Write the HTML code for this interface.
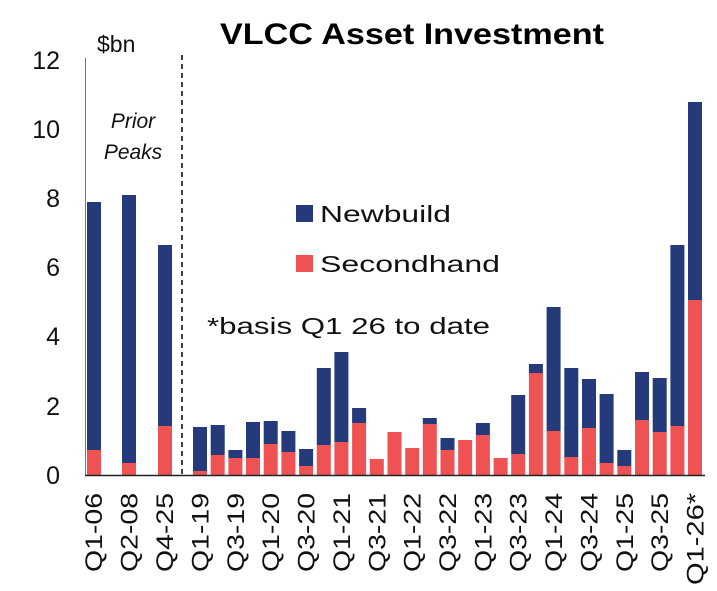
<!DOCTYPE html>
<html><head><meta charset="utf-8"><style>
html,body{margin:0;padding:0;background:#fff;}
svg{display:block;font-family:"Liberation Sans",sans-serif;}
</style></head><body>
<svg width="717" height="591" viewBox="0 0 717 591" xmlns="http://www.w3.org/2000/svg">
<rect width="717" height="591" fill="#fff"/>
<text x="220" y="44" font-size="30" font-weight="bold" textLength="384" lengthAdjust="spacingAndGlyphs" fill="#000">VLCC Asset Investment</text>
<g font-size="25" fill="#111" text-anchor="end">
<text x="60" y="69">12</text><text x="60" y="138">10</text><text x="60" y="207">8</text>
<text x="60" y="276">6</text><text x="60" y="345">4</text><text x="60" y="415">2</text><text x="60" y="484">0</text>
</g>
<text x="97" y="52" font-size="23" fill="#111">$bn</text>
<g font-size="21" font-style="italic" fill="#111" text-anchor="middle">
<text x="133" y="128">Prior</text><text x="133" y="159">Peaks</text>
</g>
<line x1="85.5" y1="58" x2="85.5" y2="476" stroke="#777" stroke-width="1"/>
<line x1="182" y1="55" x2="182" y2="475" stroke="#111" stroke-width="1.6" stroke-dasharray="5,4"/>
<rect x="296" y="205" width="17" height="17" fill="#243a7a"/>
<text x="320" y="222" font-size="23" fill="#111" textLength="131" lengthAdjust="spacingAndGlyphs">Newbuild</text>
<rect x="296" y="255" width="17" height="17" fill="#ef5252"/>
<text x="320" y="272" font-size="23" fill="#111" textLength="180" lengthAdjust="spacingAndGlyphs">Secondhand</text>
<text x="207" y="334" font-size="23" fill="#111" textLength="283" lengthAdjust="spacingAndGlyphs">*basis Q1 26 to date</text>
<g fill="#243a7a">
<rect x="87" y="202" width="14" height="248"/>
<rect x="122" y="195" width="14" height="268"/>
<rect x="158" y="245" width="14" height="181"/>
<rect x="193" y="427" width="14" height="44"/>
<rect x="210.7" y="425" width="14" height="30"/>
<rect x="228.4" y="450" width="14" height="8"/>
<rect x="246" y="422" width="14" height="36"/>
<rect x="263.7" y="421" width="14" height="23"/>
<rect x="281.4" y="431" width="14" height="21"/>
<rect x="299.1" y="449" width="14" height="17"/>
<rect x="316.8" y="368" width="14" height="77"/>
<rect x="334.4" y="352" width="14" height="90"/>
<rect x="352.1" y="408" width="14" height="15"/>
<rect x="422.8" y="418" width="14" height="6"/>
<rect x="440.5" y="438" width="14" height="12"/>
<rect x="475.9" y="423" width="14" height="12"/>
<rect x="511.2" y="395" width="14" height="59"/>
<rect x="528.9" y="364" width="14" height="9"/>
<rect x="546.6" y="307" width="14" height="124"/>
<rect x="564.3" y="368" width="14" height="89"/>
<rect x="582" y="379" width="14" height="49"/>
<rect x="599.6" y="394" width="14" height="69"/>
<rect x="617.3" y="450" width="14" height="16"/>
<rect x="635" y="372" width="14" height="48"/>
<rect x="652.7" y="378" width="14" height="54"/>
<rect x="670.4" y="245" width="14" height="181"/>
<rect x="688" y="102" width="14" height="198"/>
</g>
<g fill="#ef5252">
<rect x="87" y="450" width="14" height="25"/>
<rect x="122" y="463" width="14" height="12"/>
<rect x="158" y="426" width="14" height="49"/>
<rect x="193" y="471" width="14" height="4"/>
<rect x="210.7" y="455" width="14" height="20"/>
<rect x="228.4" y="458" width="14" height="17"/>
<rect x="246" y="458" width="14" height="17"/>
<rect x="263.7" y="444" width="14" height="31"/>
<rect x="281.4" y="452" width="14" height="23"/>
<rect x="299.1" y="466" width="14" height="9"/>
<rect x="316.8" y="445" width="14" height="30"/>
<rect x="334.4" y="442" width="14" height="33"/>
<rect x="352.1" y="423" width="14" height="52"/>
<rect x="369.8" y="459" width="14" height="16"/>
<rect x="387.5" y="432" width="14" height="43"/>
<rect x="405.2" y="448" width="14" height="27"/>
<rect x="422.8" y="424" width="14" height="51"/>
<rect x="440.5" y="450" width="14" height="25"/>
<rect x="458.2" y="440" width="14" height="35"/>
<rect x="475.9" y="435" width="14" height="40"/>
<rect x="493.6" y="458" width="14" height="17"/>
<rect x="511.2" y="454" width="14" height="21"/>
<rect x="528.9" y="373" width="14" height="102"/>
<rect x="546.6" y="431" width="14" height="44"/>
<rect x="564.3" y="457" width="14" height="18"/>
<rect x="582" y="428" width="14" height="47"/>
<rect x="599.6" y="463" width="14" height="12"/>
<rect x="617.3" y="466" width="14" height="9"/>
<rect x="635" y="420" width="14" height="55"/>
<rect x="652.7" y="432" width="14" height="43"/>
<rect x="670.4" y="426" width="14" height="49"/>
<rect x="688" y="300" width="14" height="175"/>
</g>
<line x1="85" y1="475.5" x2="705" y2="475.5" stroke="#222" stroke-width="1.5"/>
<g font-size="24" fill="#111" text-anchor="end" lengthAdjust="spacingAndGlyphs">
<text transform="translate(102,493) rotate(-90)" textLength="79" lengthAdjust="spacingAndGlyphs">Q1-06</text>
<text transform="translate(137.5,493) rotate(-90)" textLength="79" lengthAdjust="spacingAndGlyphs">Q2-08</text>
<text transform="translate(173,493) rotate(-90)" textLength="79" lengthAdjust="spacingAndGlyphs">Q4-25</text>
<text transform="translate(208.5,493) rotate(-90)" textLength="79" lengthAdjust="spacingAndGlyphs">Q1-19</text>
<text transform="translate(244,493) rotate(-90)" textLength="79" lengthAdjust="spacingAndGlyphs">Q3-19</text>
<text transform="translate(279.2,493) rotate(-90)" textLength="79" lengthAdjust="spacingAndGlyphs">Q1-20</text>
<text transform="translate(314.6,493) rotate(-90)" textLength="79" lengthAdjust="spacingAndGlyphs">Q3-20</text>
<text transform="translate(350,493) rotate(-90)" textLength="79" lengthAdjust="spacingAndGlyphs">Q1-21</text>
<text transform="translate(385.3,493) rotate(-90)" textLength="79" lengthAdjust="spacingAndGlyphs">Q3-21</text>
<text transform="translate(420.7,493) rotate(-90)" textLength="79" lengthAdjust="spacingAndGlyphs">Q1-22</text>
<text transform="translate(456,493) rotate(-90)" textLength="79" lengthAdjust="spacingAndGlyphs">Q3-22</text>
<text transform="translate(491.4,493) rotate(-90)" textLength="79" lengthAdjust="spacingAndGlyphs">Q1-23</text>
<text transform="translate(526.7,493) rotate(-90)" textLength="79" lengthAdjust="spacingAndGlyphs">Q3-23</text>
<text transform="translate(562.1,493) rotate(-90)" textLength="79" lengthAdjust="spacingAndGlyphs">Q1-24</text>
<text transform="translate(597.5,493) rotate(-90)" textLength="79" lengthAdjust="spacingAndGlyphs">Q3-24</text>
<text transform="translate(632.8,493) rotate(-90)" textLength="79" lengthAdjust="spacingAndGlyphs">Q1-25</text>
<text transform="translate(668.2,493) rotate(-90)" textLength="79" lengthAdjust="spacingAndGlyphs">Q3-25</text>
<text transform="translate(703.5,493) rotate(-90)" textLength="92" lengthAdjust="spacingAndGlyphs">Q1-26*</text>
</g>
</svg>
</body></html>
